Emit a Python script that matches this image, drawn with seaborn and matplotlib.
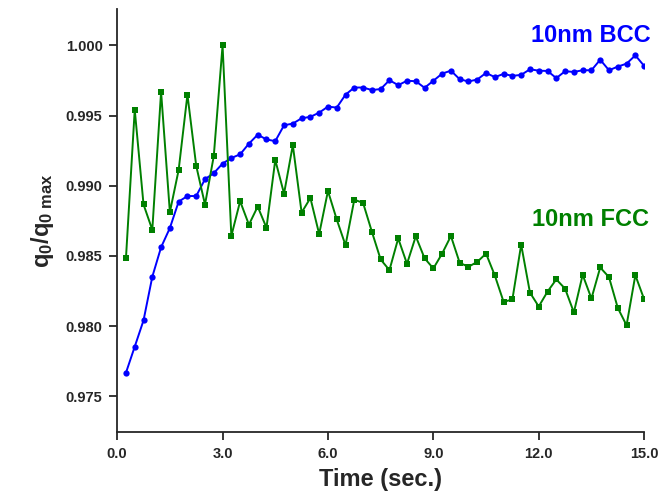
import matplotlib
matplotlib.use("Agg")
import matplotlib.pyplot as plt
import seaborn as sns
import numpy as np
import pandas as pd
from matplotlib.ticker import FormatStrFormatter

# time steps (sec.)
time = [0.25 * i for i in range(1, 61)]

# 10nm BCC
bcc = [0.97668, 0.97854, 0.98041, 0.98352, 0.98562, 0.98699, 0.98887, 0.98927,
       0.98927, 0.99047, 0.99090, 0.99158, 0.99198, 0.99224, 0.99300, 0.99364,
       0.99330, 0.99318, 0.99431, 0.99443, 0.99481, 0.99491, 0.99521, 0.99564,
       0.99557, 0.99649, 0.99700, 0.99700, 0.99682, 0.99689, 0.99752, 0.99717,
       0.99748, 0.99745, 0.99698, 0.99748, 0.99799, 0.99820, 0.99759, 0.99743,
       0.99757, 0.99804, 0.99774, 0.99797, 0.99783, 0.99790, 0.99830, 0.99820,
       0.99818, 0.99767, 0.99816, 0.99811, 0.99823, 0.99823, 0.99898, 0.99823,
       0.99849, 0.99870, 0.99929, 0.99854]

# 10nm FCC
fcc = [0.98484, 0.99542, 0.98867, 0.98686, 0.99670, 0.98812, 0.99113, 0.99649,
       0.99142, 0.98866, 0.99212, 1.00000, 0.98643, 0.98890, 0.98723, 0.98852,
       0.98701, 0.99184, 0.98944, 0.99290, 0.98809, 0.98913, 0.98656, 0.98963,
       0.98760, 0.98576, 0.98901, 0.98878, 0.98673, 0.98475, 0.98399, 0.98625,
       0.98444, 0.98640, 0.98484, 0.98411, 0.98517, 0.98642, 0.98451, 0.98423,
       0.98458, 0.98517, 0.98361, 0.98173, 0.98190, 0.98581, 0.98239, 0.98140,
       0.98246, 0.98333, 0.98267, 0.98098, 0.98366, 0.98197, 0.98418, 0.98349,
       0.98130, 0.98006, 0.98363, 0.98192]

df = pd.DataFrame({"Time": time, "BCC": bcc, "FCC": fcc})

sns.set_style("ticks")
plt.rcParams["font.family"] = ["Liberation Sans", "DejaVu Sans"]
plt.rcParams["mathtext.fontset"] = "custom"
plt.rcParams["mathtext.rm"] = "Liberation Sans:bold"
plt.rcParams["mathtext.it"] = "Liberation Sans:bold"
plt.rcParams["mathtext.bf"] = "Liberation Sans:bold"

fig = plt.figure(figsize=(6.62, 4.95), dpi=100)
ax = fig.add_axes([0.177, 0.127, 0.796, 0.855])

sns.lineplot(data=df, x="Time", y="BCC", ax=ax, color="#0000ff", marker="o",
             markersize=4.5, markeredgewidth=0, linewidth=1.4)
sns.lineplot(data=df, x="Time", y="FCC", ax=ax, color="#008000", marker="s",
             markersize=4, markeredgewidth=0, linewidth=1.4)

ax.set_xlim(0, 15)
ax.set_ylim(0.97245, 1.0026)
ax.set_xticks([0, 3, 6, 9, 12, 15])
ax.set_yticks([0.975, 0.980, 0.985, 0.990, 0.995, 1.000])
ax.xaxis.set_major_formatter(FormatStrFormatter("%.1f"))
ax.yaxis.set_major_formatter(FormatStrFormatter("%.3f"))
ax.tick_params(direction="out", length=5.5, width=1.3, labelsize=10.5, pad=5)
for lab in ax.get_xticklabels() + ax.get_yticklabels():
    lab.set_fontweight("bold")
for s in ["left", "bottom"]:
    ax.spines[s].set_linewidth(1.3)
sns.despine(ax=ax)

ax.set_xlabel("Time (sec.)", fontsize=17, fontweight="bold", labelpad=5)
ax.set_ylabel(r"q$_0$/q$_{0\ max}$", fontsize=17, fontweight="bold", labelpad=7)

ax.text(651, 495 - 36, "10nm BCC", transform=None, color="#0000ff", fontsize=17,
        fontweight="bold", ha="right", va="center")
ax.text(649, 495 - 220, "10nm FCC", transform=None, color="#008000", fontsize=17,
        fontweight="bold", ha="right", va="center")

fig.savefig("out.png", dpi=100)
